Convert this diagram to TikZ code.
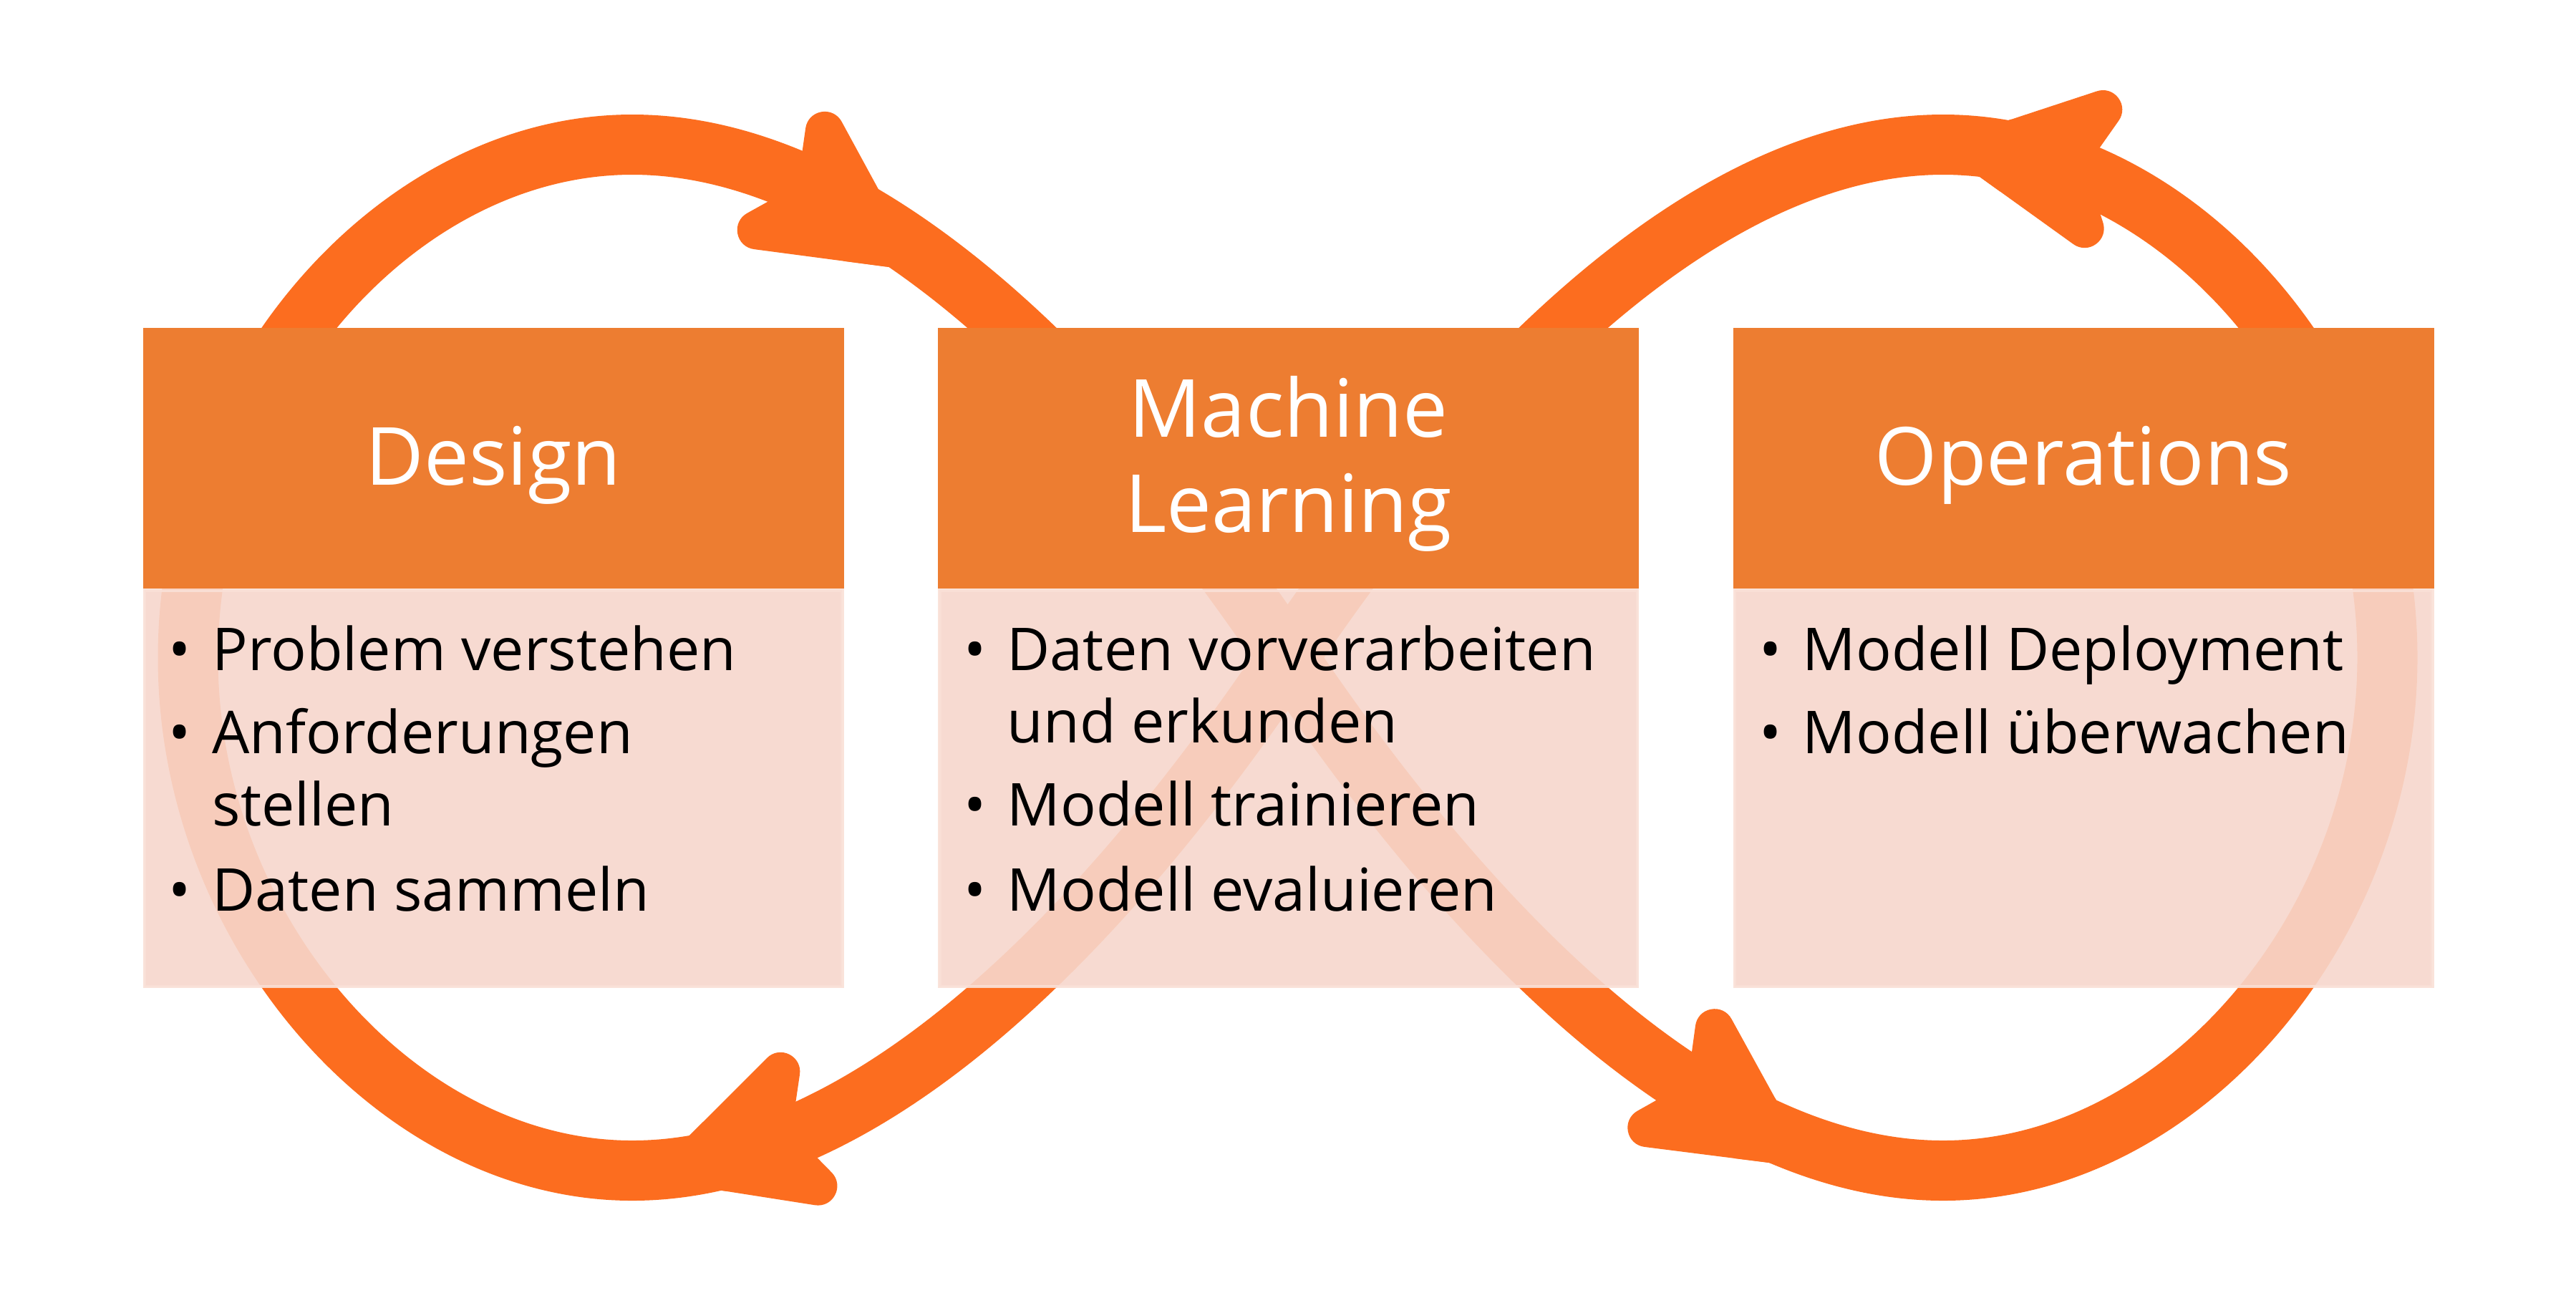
\documentclass[tikz,border=0pt]{standalone}
\usepackage{fontspec}
\setmainfont{Open Sans}
\definecolor{loopc}{RGB}{252,109,31}
\definecolor{headc}{RGB}{237,125,49}
\definecolor{bodyc}{RGB}{247,215,204}
\definecolor{bordc}{RGB}{250,224,215}
\tikzset{
  loopline/.style={draw=loopc, line width=0.84cm, line join=round},
  arrowhd/.style={fill=loopc, draw=loopc, line width=0.54cm, line join=round},
  ahead/.pic={
    \filldraw[arrowhd] (-0.595,0) -- (-2.246,0.840) -- (-1.829,0) -- (-2.246,-0.840) -- cycle;
    \fill[loopc] (0,0) -- (-1,0.509) -- (-1,-0.509) -- cycle;
  },
  headbox/.style={fill=headc, draw=none, minimum width=9.79cm, minimum height=3.64cm, inner sep=0pt, outer sep=0pt},
  bodybox/.style={fill=bodyc, draw=bordc, line width=0.045cm, opacity=0.9, minimum width=9.745cm, minimum height=5.535cm, inner sep=0pt, outer sep=0pt},
  htext/.style={text=white, font=\fontsize{31.9pt}{38pt}\selectfont, inner sep=0pt, anchor=base},
  btext/.style={text=black, font=\fontsize{23.5pt}{28pt}\selectfont, inner sep=0pt, anchor=base west},
  bul/.style={text=black, font=\fontsize{23.5pt}{28pt}\selectfont, inner sep=0pt, anchor=base},
}
\begin{document}
\begin{tikzpicture}[x=1cm,y=1cm]
\useasboundingbox (0,0) rectangle (35.98,-18.12);
\fill[white] (0,0) rectangle (35.98,-18.12);

% key points of the figure-eight loop
\coordinate (Lt) at (8.83,-2.02);
\coordinate (Ll) at (2.625,-9.185);
\coordinate (Lb) at (8.83,-16.35);
\coordinate (C)  at (17.985,-9.185);
\coordinate (Rt) at (27.14,-2.02);
\coordinate (Rr) at (33.345,-9.185);
\coordinate (Rb) at (27.14,-16.35);

\draw[loopline] (Lt) .. controls (12.63,-2.02) and (16.14,-6.449) .. (C)
  .. controls (19.83,-11.921) and (23.34,-16.35) .. (Rb)
  .. controls (30.429,-16.35) and (33.345,-12.982) .. (Rr)
  .. controls (33.345,-5.388) and (30.429,-2.02) .. (Rt)
  .. controls (23.34,-2.02) and (19.83,-6.449) .. (C)
  .. controls (16.14,-11.921) and (12.63,-16.35) .. (Lb)
  .. controls (5.541,-16.35) and (2.625,-12.982) .. (Ll)
  .. controls (2.625,-5.388) and (5.541,-2.02) .. cycle;

% arrowheads
\pic[rotate=-34.5] at (12.894,-3.793) {ahead};
\pic[rotate=171.25] at (27.024,-2.019) {ahead};
\pic[rotate=198.05] at (9.028,-16.463) {ahead};
\pic[rotate=-34.2] at (25.333,-16.319) {ahead};

% boxes
\node[headbox] (dhead) at (6.89,-6.40) {};
\node[headbox] (mhead) at (17.995,-6.40) {};
\node[headbox] (ohead) at (29.10,-6.40) {};
\node[bodybox] (dbody) at (6.89,-11.01) {};
\node[bodybox] (mbody) at (17.995,-11.01) {};
\node[bodybox] (obody) at (29.10,-11.01) {};

% header texts
\node[htext] (dtitle) at (6.89,-6.776) {Design};
\node[htext] (mtitle1) at (17.995,-6.102) {Machine};
\node[htext] (mtitle2) at (17.995,-7.43) {Learning};
\node[htext] (otitle) at (29.10,-6.776) {Operations};

% Design items
\node[bul] (db1) at (2.51,-9.36) {•};
\node[btext] (dt1) at (2.96,-9.36) {Problem verstehen};
\node[bul] (db2) at (2.51,-10.524) {•};
\node[btext] (dt2) at (2.96,-10.524) {Anforderungen};
\node[btext] (dt2b) at (2.96,-11.534) {stellen};
\node[bul] (db3) at (2.51,-12.728) {•};
\node[btext] (dt3) at (2.96,-12.728) {Daten sammeln};

% Machine Learning items
\node[bul] (mb1) at (13.62,-9.36) {•};
\node[btext] (mt1) at (14.06,-9.36) {Daten vorverarbeiten};
\node[btext] (mt1b) at (14.06,-10.37) {und erkunden};
\node[bul] (mb2) at (13.62,-11.534) {•};
\node[btext] (mt2) at (14.06,-11.534) {Modell trainieren};
\node[bul] (mb3) at (13.62,-12.728) {•};
\node[btext] (mt3) at (14.06,-12.728) {Modell evaluieren};

% Operations items
\node[bul] (ob1) at (24.73,-9.36) {•};
\node[btext] (ot1) at (25.17,-9.36) {Modell Deployment};
\node[bul] (ob2) at (24.73,-10.524) {•};
\node[btext] (ot2) at (25.17,-10.524) {Modell überwachen};
\end{tikzpicture}
\end{document}
